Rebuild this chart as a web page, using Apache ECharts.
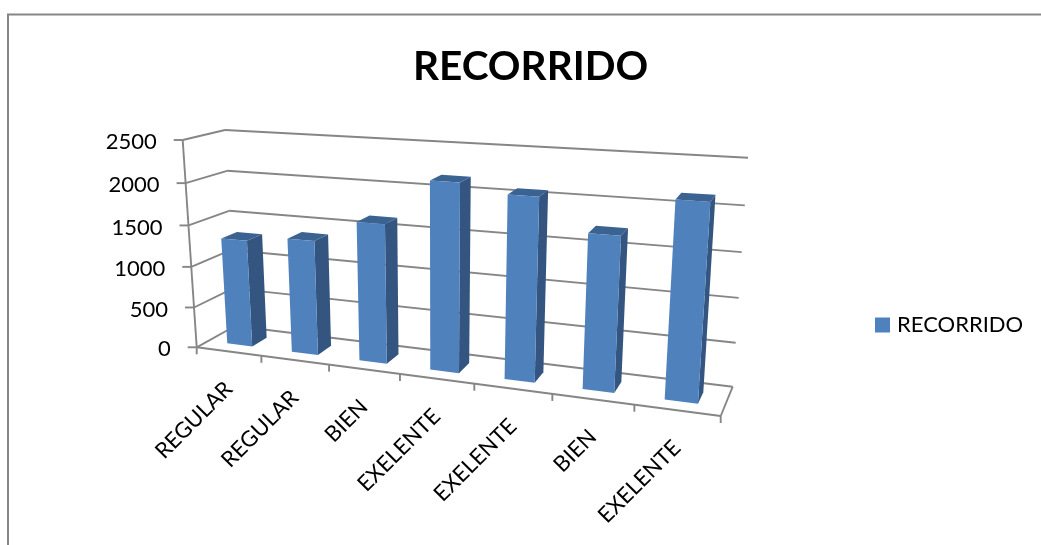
<!DOCTYPE html>
<html>
<head>
<meta charset="utf-8">
<style>
html,body{margin:0;padding:0;background:#fff;}
#chart{width:1041px;height:545px;}
</style>
<script src="https://cdn.jsdelivr.net/npm/echarts@6/dist/echarts.min.js"></script>
</head>
<body>
<div id="chart"></div>
<script>
// Per-category recorrido totals
const categories = ['REGULAR', 'REGULAR', 'BIEN', 'EXELENTE', 'EXELENTE', 'BIEN', 'EXELENTE'];
const recorrido = [1310, 1380, 1645, 2175, 2080, 1730, 2150];
const yTicks = [0, 500, 1000, 1500, 2000, 2500];
const seriesName = 'RECORRIDO';

const FONT = 'Lato, "Noto Sans", sans-serif';
const LINE = '#868686';

// Plot box used by the hidden cartesian axes; the axes supply the scales,
// the box is then projected onto the slanted 3D chart space.
const box = { left: 196, top: 140, width: 524, height: 207 };

// Eight corners of the 3D chart space, as drawn on the page.
const corner = {
  frontBottomLeft: [196.7, 347.3], frontBottomRight: [720.7, 416],
  backBottomLeft: [235, 326], backBottomRight: [732.7, 386.7],
  frontTopLeft: [182.7, 140], frontTopRight: [737, 174],
  backTopLeft: [225, 130], backTopRight: [748, 157.7]
};
// Perspective foreshortening along the category and value directions.
const foreshortenU = 0.845;
const foreshortenH = 0.951;

function mix(a, b, t) { return [a[0] + (b[0] - a[0]) * t, a[1] + (b[1] - a[1]) * t]; }
function warp(t, k) { return k * t / (1 + (k - 1) * t); }

// u: 0..1 along the categories, h: 0..1 up the value axis, d: 0..1 into the depth.
function project(u, h, d) {
  const s = warp(u, foreshortenU);
  const c = corner;
  const bottom = mix(mix(c.frontBottomLeft, c.frontBottomRight, s), mix(c.backBottomLeft, c.backBottomRight, s), d);
  const top = mix(mix(c.frontTopLeft, c.frontTopRight, s), mix(c.backTopLeft, c.backTopRight, s), d);
  return mix(bottom, top, warp(h, foreshortenH));
}

function toUnit(api, cat, val) {
  const p = api.coord([cat, val]);
  return [(p[0] - box.left) / box.width, (box.top + box.height - p[1]) / box.height];
}

function poly(points, fill) {
  return { type: 'polygon', shape: { points }, style: { fill, stroke: null } };
}
function seg(a, b, width) {
  return { type: 'line', shape: { x1: a[0], y1: a[1], x2: b[0], y2: b[1] }, style: { stroke: LINE, lineWidth: width || 1.9 } };
}

// Walls: one group of gridlines per value tick, plus the floor and axis lines.
function renderWalls(params, api) {
  const v = api.value(0);
  const h = toUnit(api, 0, v)[1];
  const kids = [
    seg(project(0, h, 0), project(0, h, 1)),
    seg(project(0, h, 1), project(1, h, 1)),
    seg(project(0, h, 0), [project(0, h, 0)[0] - 9, project(0, h, 0)[1]])
  ];
  if (params.dataIndex === 0) {
    kids.push(seg(project(0, 0, 0), project(0, 1, 0)));
    kids.push(seg(project(0, 0, 0), project(1, 0, 0)));
    kids.push(seg(project(1, 0, 0), project(1, 0, 1)));
    for (let i = 0; i <= categories.length; i++) {
      const p = project(i / categories.length, 0, 0);
      kids.push(seg(p, [p[0], p[1] + 7]));
    }
  }
  return { type: 'group', children: kids };
}

function renderBar(params, api) {
  const cat = api.value(0);
  const [uc, h] = toUnit(api, cat, api.value(1));
  const half = 0.028, d0 = 0.3, d1 = 0.7;
  const l = uc - half, r = uc + half;
  const front = [project(l, 0, d0), project(r, 0, d0), project(r, h, d0), project(l, h, d0)];
  const side = [project(r, 0, d0), project(r, 0, d1), project(r, h, d1), project(r, h, d0)];
  const top = [project(l, h, d0), project(r, h, d0), project(r, h, d1), project(l, h, d1)];
  return {
    type: 'group',
    children: [poly(side, '#33557F'), poly(top, '#3B6391'), poly(front, '#4F81BD')]
  };
}

function renderYLabel(params, api) {
  const v = api.value(0);
  const h = toUnit(api, 0, v)[1];
  const p = project(0, h, 0);
  return {
    type: 'text', x: p[0] - 26, y: p[1] + 2,
    style: { text: String(v), font: '22px ' + FONT, fill: '#000', align: 'right', verticalAlign: 'middle' }
  };
}

function renderXLabel(params, api) {
  const cat = api.value(0);
  const u = toUnit(api, cat, 0)[0];
  const p = project(u, 0, 0);
  return {
    type: 'text', x: p[0], y: p[1] + 34, rotation: Math.PI / 4,
    style: { text: categories[cat], font: '22px ' + FONT, fill: '#000', align: 'right', verticalAlign: 'middle' }
  };
}

const chart = echarts.init(document.getElementById('chart'), null, { renderer: 'canvas' });
chart.setOption({
  animation: false,
  backgroundColor: '#fff',
  title: {
    text: seriesName, left: 408, top: 41,
    textStyle: { fontFamily: FONT, fontWeight: 'bold', fontSize: 40.5, color: '#000' }
  },
  legend: {
    left: 870, top: 309, itemWidth: 15, itemHeight: 15, itemGap: 8,
    icon: 'rect',
    textStyle: { fontFamily: FONT, fontSize: 22, color: '#000', padding: [0, 0, 0, 2] },
    data: [seriesName]
  },
  grid: Object.assign({}, box, { containLabel: false }),
  xAxis: { type: 'category', data: categories.map((_, i) => i), show: false },
  yAxis: { type: 'value', min: 0, max: 2500, interval: 500, show: false },
  graphic: [
    { type: 'line', shape: { x1: 7, y1: 14.5, x2: 1041, y2: 14.5 }, style: { stroke: LINE, lineWidth: 2 }, silent: true },
    { type: 'line', shape: { x1: 8, y1: 14.5, x2: 8, y2: 545 }, style: { stroke: LINE, lineWidth: 2 }, silent: true }
  ],
  series: [
    { type: 'custom', name: 'walls', renderItem: renderWalls, data: yTicks.map(v => [v]), encode: { y: 0 }, silent: true, z: 1 },
    {
      type: 'custom', name: seriesName, renderItem: renderBar,
      data: recorrido.map((v, i) => [i, v]), encode: { x: 0, y: 1 },
      itemStyle: { color: '#4F81BD' }, z: 2
    },
    { type: 'custom', name: 'yLabels', renderItem: renderYLabel, data: yTicks.map(v => [v]), encode: { y: 0 }, silent: true, z: 3 },
    { type: 'custom', name: 'xLabels', renderItem: renderXLabel, data: categories.map((_, i) => [i]), encode: { x: 0 }, silent: true, z: 3 }
  ]
});
</script>
</body>
</html>
